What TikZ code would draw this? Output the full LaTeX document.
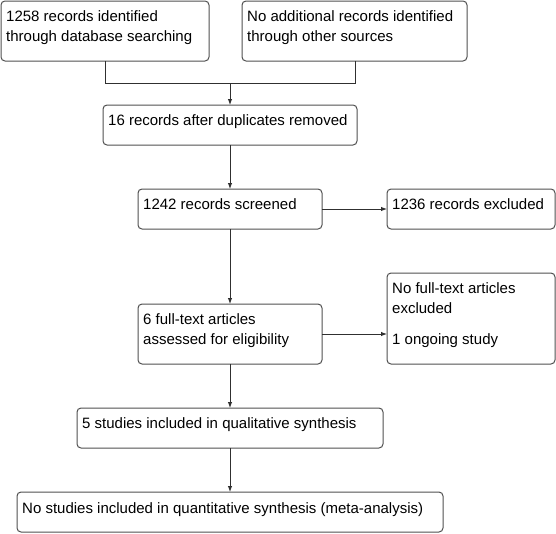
\documentclass[tikz,border=0pt]{standalone}
\usepackage{fontspec}
\setmainfont{Liberation Sans}
\usetikzlibrary{arrows.meta}
\definecolor{boxgray}{HTML}{505050}
\definecolor{linegray}{HTML}{303030}
\begin{document}
\begin{tikzpicture}[x=1pt,y=-1pt,
  box/.style={draw=boxgray, line width=1pt, rounded corners=4pt, inner sep=0pt, outer sep=0pt, anchor=north west},
  txt/.style={anchor=base west, inner sep=0pt, font=\fontsize{15}{20}\selectfont, text=black},
  ln/.style={draw=linegray, line width=1pt},
  arr/.style={ln, -{Latex[length=6pt,width=4.5pt]}}]
\useasboundingbox (0,0) rectangle (556,533);
% boxes
\node[box, minimum width=208pt, minimum height=60pt] (b1) at (1,1) {};
\node[box, minimum width=225pt, minimum height=60pt] (b2) at (242,1) {};
\node[box, minimum width=254pt, minimum height=40pt] (b3) at (103,105) {};
\node[box, minimum width=184pt, minimum height=40pt] (b4) at (138,189) {};
\node[box, minimum width=168pt, minimum height=40pt] (b5) at (387,189) {};
\node[box, minimum width=184pt, minimum height=60pt] (b6) at (138,304) {};
\node[box, minimum width=168pt, minimum height=91pt] (b7) at (387,273) {};
\node[box, minimum width=306pt, minimum height=40pt] (b8) at (77,408) {};
\node[box, minimum width=426pt, minimum height=40pt] (b9) at (17,492) {};
% texts
\node[txt] (t1a) at (6,21) {1258 records identified};
\node[txt] (t1b) at (6,41) {through database searching};
\node[txt] (t2a) at (247,21) {No additional records identified};
\node[txt] (t2b) at (247,41) {through other sources};
\node[txt] (t3) at (108,125) {16 records after duplicates removed};
\node[txt] (t4) at (143,209) {1242 records screened};
\node[txt] (t5) at (392,209) {1236 records excluded};
\node[txt] (t6a) at (143,324) {6 full-text articles};
\node[txt] (t6b) at (143,344) {assessed for eligibility};
\node[txt] (t7a) at (392,293) {No full-text articles};
\node[txt] (t7b) at (392,313) {excluded};
\node[txt] (t7c) at (392,344) {1 ongoing study};
\node[txt] (t8) at (82,428) {5 studies included in qualitative synthesis};
\node[txt] (t9) at (22,513) {No studies included in quantitative synthesis (meta-analysis)};
% connectors
\coordinate (m1) at (105,83);
\coordinate (m2) at (355,83);
\coordinate (j) at (230,83);
\draw[ln] (b1.south -| m1) -- (m1) -- (m2) -- (b2.south -| m2);
\draw[arr] (j) -- (b3.north -| j);
\draw[arr] (b3.south -| j) -- (b4.north -| j);
\draw[arr] (b4.east) -- (b5.west);
\draw[arr] (b4.south -| j) -- (b6.north -| j);
\draw[arr] (b6.east) -- (b6.east -| b7.west);
\draw[arr] (b6.south -| j) -- (b8.north -| j);
\draw[arr] (b8.south -| j) -- (b9.north -| j);
\end{tikzpicture}
\end{document}
